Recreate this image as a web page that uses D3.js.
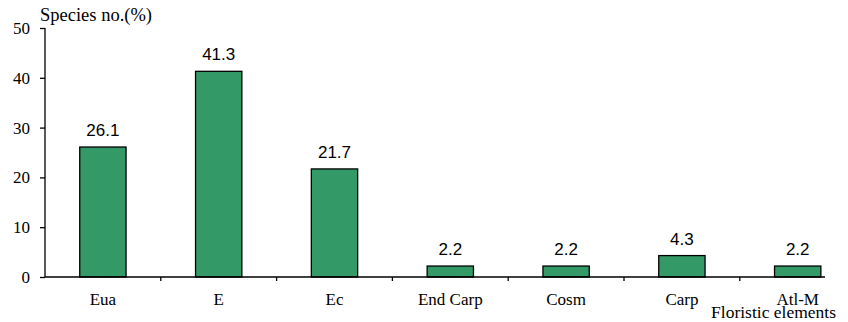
<!DOCTYPE html>
<html>
<head>
<meta charset="utf-8">
<script src="https://cdn.jsdelivr.net/npm/d3@7"></script>
<style>
  body { margin: 0; background: #fff; }
  svg { display: block; }
</style>
</head>
<body>
<svg></svg>
<script>
var width = 848;
var height = 322;

// data
var categories = ['Eua', 'E', 'Ec', 'End Carp', 'Cosm', 'Carp', 'Atl-M'];
var values = [26.1, 41.3, 21.7, 2.2, 2.2, 4.3, 2.2];
var yTicks = [0, 10, 20, 30, 40, 50];

var plotLeft = 45, plotTop = 28, plotBottom = 277;
var step = 115.8;
var serif = '"Liberation Serif", "Times New Roman", serif';

var svg = d3.select('svg')
            .attr('width', width)
            .attr('height', height);

var x = d3.scaleBand()
          .domain(categories)
          .range([plotLeft, plotLeft + step * categories.length])
          .padding(0);

var y = d3.scaleLinear()
          .domain([0, 50])
          .range([plotBottom, plotTop]);

var barW = x.bandwidth() * 0.4;

// bars
svg.selectAll('.bar')
    .data(values)
    .enter()
    .append('rect')
        .classed('bar', true)
        .attr('x', (d, i) => x(categories[i]) + x.bandwidth() / 2 - barW / 2)
        .attr('y', d => y(d))
        .attr('width', barW)
        .attr('height', d => y(0) - y(d))
        .attr('fill', '#339966')
        .attr('stroke', '#000')
        .attr('stroke-width', 1.3);

// value labels
svg.selectAll('.val')
    .data(values)
    .enter()
    .append('text')
        .classed('val', true)
        .attr('x', (d, i) => x(categories[i]) + x.bandwidth() / 2)
        .attr('y', d => y(d) - 11)
        .attr('text-anchor', 'middle')
        .style('font-family', '"Liberation Sans", Arial, sans-serif')
        .style('font-size', '17px')
        .text(d => d.toFixed(1));

// y axis
var yAxis = svg.append('g')
    .attr('transform', `translate(${plotLeft},0)`)
    .call(d3.axisLeft(y).tickValues(yTicks).tickSize(5).tickPadding(10));
yAxis.select('.domain').attr('d', `M0,${plotTop}V${plotBottom}`);
yAxis.selectAll('line, path').attr('stroke', '#000').attr('stroke-width', 1.3);
yAxis.selectAll('text')
    .style('font-family', serif)
    .style('font-size', '17px')
    .attr('fill', '#000');

// x axis: ticks on category boundaries
var xAxis = svg.append('g').attr('transform', `translate(0,${plotBottom})`);
xAxis.append('line')
    .attr('x1', plotLeft).attr('x2', 825)
    .attr('stroke', '#000').attr('stroke-width', 1.3);
xAxis.selectAll('.xt')
    .data(categories.slice(1))
    .enter()
    .append('line')
        .attr('x1', d => x(d)).attr('x2', d => x(d))
        .attr('y1', 0).attr('y2', 4)
        .attr('stroke', '#000')
        .attr('stroke-width', 1.3);
xAxis.selectAll('.xl')
    .data(categories)
    .enter()
    .append('text')
        .attr('x', d => x(d) + x.bandwidth() / 2)
        .attr('y', 28)
        .attr('text-anchor', 'middle')
        .style('font-family', serif)
        .style('font-size', '17px')
        .text(d => d);

// axis titles
svg.append('text')
    .attr('x', 40)
    .attr('y', 21)
    .style('font-family', serif)
    .style('font-size', '18.5px')
    .text('Species no.(%)');

svg.append('text')
    .attr('x', 836)
    .attr('y', 318)
    .attr('text-anchor', 'end')
    .style('font-family', serif)
    .style('font-size', '17.5px')
    .text('Floristic elements');
</script>
</body>
</html>
